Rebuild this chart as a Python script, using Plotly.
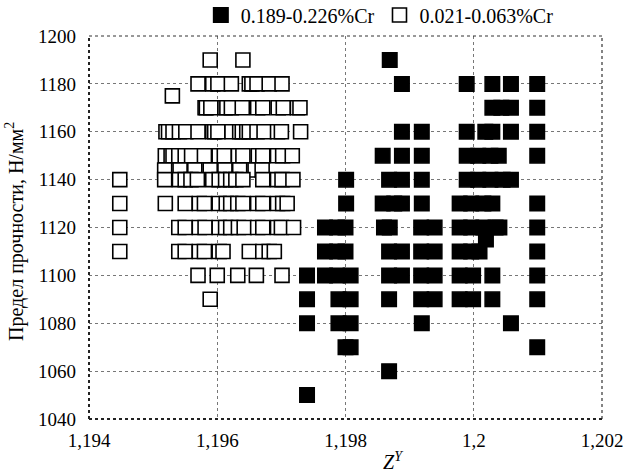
import plotly.graph_objects as go

# ---- data ----
# 0.189-0.226 %Cr (filled squares): Z^Y and strength, row by row
high_cr_z = [
    1.19869,                                                     # 1190
    1.19888, 1.19989, 1.20029, 1.20058, 1.20099,                 # 1180
    1.20029, 1.20043, 1.20058, 1.20099,                          # 1170
    1.19888, 1.19919, 1.19989, 1.20018, 1.20029, 1.20058, 1.20099,  # 1160
    1.19858, 1.19888, 1.19919, 1.19989, 1.20007, 1.20026, 1.20039, 1.20099,  # 1150
    1.19801, 1.19868, 1.19888, 1.19919, 1.19989, 1.20007, 1.20026, 1.20045, 1.20058,  # 1140
    1.19801, 1.19858, 1.19876, 1.19888, 1.19919, 1.19978, 1.19996, 1.20015, 1.20029, 1.20099,  # 1130
    1.19768, 1.19787, 1.19800, 1.19860, 1.19869, 1.19918, 1.19939, 1.19978, 1.19996, 1.20015,
    1.20034, 1.20040, 1.20099,                                   # 1120
    1.20019,                                                     # 1115
    1.19768, 1.19787, 1.19800, 1.19868, 1.19888, 1.19918, 1.19939, 1.19978, 1.19996, 1.20009, 1.20099,  # 1110
    1.19740, 1.19768, 1.19787, 1.19808, 1.19868, 1.19888, 1.19918, 1.19939, 1.19978, 1.19999,
    1.20029, 1.20099,                                            # 1100
    1.19740, 1.19789, 1.19808, 1.19868, 1.19918, 1.19939, 1.19978, 1.19999, 1.20029, 1.20099,  # 1090
    1.19740, 1.19789, 1.19808, 1.19919, 1.20058,                 # 1080
    1.19800, 1.19808, 1.20099,                                   # 1070
    1.19868,                                                     # 1060
    1.19740,                                                     # 1050
]
high_cr_strength = (
    [1190] * 1 + [1180] * 5 + [1170] * 4 + [1160] * 7 + [1150] * 8 + [1140] * 9
    + [1130] * 10 + [1120] * 13 + [1115] * 1 + [1110] * 11 + [1100] * 12
    + [1090] * 10 + [1080] * 5 + [1070] * 3 + [1060] * 1 + [1050] * 1
)

# 0.021-0.063 %Cr (open squares)
low_cr_z = [
    1.19589, 1.19640,                                            # 1190
    1.19570, 1.19593, 1.19601, 1.19622, 1.19650, 1.19654, 1.19662, 1.19681, 1.19701,  # 1180
    1.19530,                                                     # 1175
    1.19581, 1.19583, 1.19590, 1.19612, 1.19615, 1.19622, 1.19639, 1.19663, 1.19671,
    1.19695, 1.19703, 1.19725, 1.19729,                          # 1170
    1.19520, 1.19524, 1.19531, 1.19541, 1.19551, 1.19570, 1.19593, 1.19596, 1.19601,
    1.19623, 1.19635, 1.19639, 1.19646, 1.19650, 1.19662, 1.19673, 1.19694, 1.19700, 1.19730,  # 1160
    1.19519, 1.19528, 1.19531, 1.19540, 1.19550, 1.19560, 1.19580, 1.19603, 1.19611,
    1.19633, 1.19640, 1.19664, 1.19671, 1.19694, 1.19702, 1.19717,  # 1150
    1.19518, 1.19542, 1.19565, 1.19589, 1.19612, 1.19635, 1.19659, 1.19670,  # 1144
    1.19448, 1.19518, 1.19541, 1.19550, 1.19559, 1.19569, 1.19593, 1.19603, 1.19613,
    1.19621, 1.19629, 1.19640, 1.19671, 1.19694, 1.19701, 1.19718,  # 1140
    1.19448, 1.19519, 1.19550, 1.19572, 1.19580, 1.19603, 1.19614, 1.19621, 1.19632,
    1.19640, 1.19663, 1.19671, 1.19694, 1.19702, 1.19709,        # 1130
    1.19448, 1.19540, 1.19550, 1.19572, 1.19581, 1.19603, 1.19613, 1.19621, 1.19633,
    1.19642, 1.19663, 1.19671, 1.19694, 1.19700, 1.19719,        # 1120
    1.19448, 1.19540, 1.19550, 1.19572, 1.19580, 1.19603, 1.19609, 1.19650, 1.19671,
    1.19681, 1.19689,                                            # 1110
    1.19570, 1.19600, 1.19632, 1.19661, 1.19701,                 # 1100
    1.19589,                                                     # 1090
]
low_cr_strength = (
    [1190] * 2 + [1180] * 9 + [1175] * 1 + [1170] * 13 + [1160] * 19 + [1150] * 16
    + [1144] * 8 + [1140] * 16 + [1130] * 15 + [1120] * 15 + [1110] * 11
    + [1100] * 5 + [1090] * 1
)

series_names = ["0.189-0.226%Cr", "0.021-0.063%Cr"]
x_tick_vals = [1.194, 1.196, 1.198, 1.200, 1.202]
x_tick_text = ["1,194", "1,196", "1,198", "1,2", "1,202"]
y_tick_vals = [1040, 1060, 1080, 1100, 1120, 1140, 1160, 1180, 1200]

FONT = "Liberation Serif"

fig = go.Figure()
fig.add_trace(go.Scatter(
    x=high_cr_z, y=high_cr_strength, mode="markers", name=series_names[0],
    marker=dict(symbol="square", size=14.5, color="black",
                line=dict(color="black", width=1.5)),
))
fig.add_trace(go.Scatter(
    x=low_cr_z, y=low_cr_strength, mode="markers", name=series_names[1],
    marker=dict(symbol="square", size=14, color="white",
                line=dict(color="black", width=1.6)),
))

axis_common = dict(
    showgrid=True, gridcolor="#777777", griddash="dot", gridwidth=1,
    zeroline=False, showline=False, ticks="",
    tickfont=dict(family=FONT, size=19, color="black"),
)

fig.update_layout(
    width=625, height=475,
    margin=dict(l=89, r=23, t=36, b=56, autoexpand=False),
    paper_bgcolor="white", plot_bgcolor="white",
    font=dict(family=FONT, color="black", size=19),
    showlegend=True,
    legend=dict(
        orientation="h", x=0.218, y=1.055, xanchor="left", yanchor="middle",
        font=dict(family=FONT, size=20, color="black"),
        itemwidth=30, tracegroupgap=0, bgcolor="rgba(0,0,0,0)",
    ),
    xaxis=dict(range=[1.194, 1.202], tickvals=x_tick_vals, ticktext=x_tick_text,
               ticklabelstandoff=8, **axis_common),
    yaxis=dict(range=[1040, 1200], tickvals=y_tick_vals,
               ticklabelstandoff=12, **axis_common),
    shapes=[
        dict(type="line", xref="paper", yref="paper", x0=0, x1=1, y0=1, y1=1,
             line=dict(color="#333333", width=1, dash="dot")),
        dict(type="line", xref="paper", yref="paper", x0=1, x1=1, y0=0, y1=1,
             line=dict(color="#333333", width=1.2, dash="dot")),
        dict(type="line", xref="paper", yref="paper", x0=0, x1=1, y0=0, y1=0,
             line=dict(color="#222222", width=2, dash="dot")),
        dict(type="line", xref="paper", yref="paper", x0=0, x1=0, y0=0, y1=1,
             line=dict(color="#222222", width=2, dash="dot")),
    ],
    annotations=[
        dict(text="Предел прочности, Н/мм<sup>2</sup>", textangle=-90,
             xref="paper", yref="paper", x=-0.145, y=0.49,
             xanchor="center", yanchor="middle", showarrow=False,
             font=dict(family=FONT, size=20, color="black")),
        dict(text="<i>Z</i><sup><i>Y</i></sup>",
             xref="paper", yref="paper", x=0.5926, y=-0.11,
             xanchor="center", yanchor="middle", showarrow=False,
             font=dict(family=FONT, size=20, color="black")),
    ],
)

fig.write_html("out.html")
